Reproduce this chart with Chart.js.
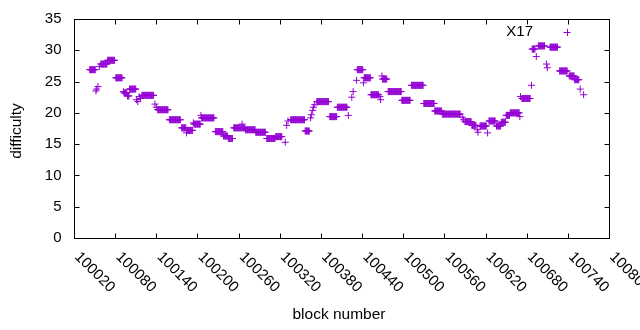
<!DOCTYPE html>
<html><head><meta charset="utf-8">
<script src="https://cdn.jsdelivr.net/npm/chart.js@4/dist/chart.umd.min.js"></script>
<style>html,body{margin:0;padding:0;background:#fff}</style>
</head><body>
<canvas id="c" width="640" height="330"></canvas>
<script>
// Runs of consecutive blocks sharing the same difficulty (start block, end block, difficulty)
const runStart = [100043,100052,100053,100055,100057,100059,100069,100081,100092,100093,100098,100101,100111,100113,100115,100117,100119,100138,100140,100142,100159,100177,100184,100185,100194,100195,100205,100206,100226,100238,100245,100253,100265,100266,100270,100285,100301,100314,100328,100330,100332,100336,100357,100365,100366,100368,100369,100371,100374,100393,100404,100420,100425,100427,100432,100433,100442,100443,100453,100466,100467,100469,100470,100478,100498,100512,100530,100546,100557,100586,100588,100590,100600,100608,100609,100612,100623,100625,100636,100643,100650,100656,100670,100671,100673,100687,100688,100694,100697,100709,100710,100714,100728,100742,100750,100758,100763];
const runEnd = [100051,100052,100053,100055,100057,100068,100079,100090,100092,100097,100100,100110,100111,100113,100115,100117,100136,100138,100140,100157,100175,100183,100184,100193,100194,100204,100205,100224,100237,100244,100251,100264,100265,100269,100284,100299,100313,100323,100328,100330,100332,100356,100363,100365,100366,100368,100369,100371,100391,100403,100418,100420,100425,100427,100432,100441,100442,100452,100464,100466,100467,100469,100476,100497,100510,100529,100545,100556,100583,100586,100588,100599,100606,100608,100609,100621,100623,100634,100642,100649,100655,100669,100670,100671,100685,100687,100692,100694,100706,100709,100710,100725,100739,100749,100756,100758,100763];
const runDifficulty = [26.9,23.5,23.8,24.2,27.4,27.8,28.4,25.6,23.4,23.2,22.7,23.8,22.1,21.8,22.6,22.3,22.8,21.4,20.9,20.5,18.9,17.6,16.8,17.2,18.4,18.2,19.6,19.2,17.0,16.3,15.9,17.6,18.2,17.6,17.3,16.9,15.9,16.2,15.3,18.0,18.7,18.9,17.1,19.2,19.7,20.4,20.9,21.3,21.8,19.4,20.9,19.6,22.5,23.4,25.2,26.9,24.8,25.6,22.9,22.6,22.1,25.9,25.4,23.4,22.0,24.4,21.5,20.3,19.8,19.3,18.9,18.6,18.0,17.3,16.9,17.9,16.8,18.7,17.9,18.5,19.6,20.0,19.4,22.6,22.3,24.4,30.2,29.0,30.7,27.8,27.2,30.5,26.7,25.9,25.3,23.8,22.9];

const xTicks = [100020,100080,100140,100200,100260,100320,100380,100440,100500,100560,100620,100680,100740,100800];
const yTicks = [0,5,10,15,20,25,30,35];
const seriesName = 'X17';
const xTitle = 'block number';
const yTitle = 'difficulty';

const points = [];
for (let i = 0; i < runStart.length; i++) {
  for (let b = runStart[i]; b <= runEnd[i]; b++) points.push({x: b, y: runDifficulty[i]});
}

const COLOR = '#9400d3';
const FONT = '"Liberation Sans", Arial, sans-serif';

const frame = {
  id: 'gnuframe',
  afterDraw(chart) {
    const ctx = chart.ctx, a = chart.chartArea, xs = chart.scales.x, ys = chart.scales.y;
    const L = Math.round(a.left) + 0.5, R = Math.round(a.right) + 0.5;
    const T = Math.round(a.top) + 0.5, B = Math.round(a.bottom) + 0.5;
    const tl = 5;
    ctx.save();
    ctx.strokeStyle = '#000'; ctx.lineWidth = 1;
    ctx.strokeRect(L, T, R - L, B - T);
    ctx.beginPath();
    yTicks.forEach(v => {
      const y = Math.round(ys.getPixelForValue(v)) + 0.5;
      ctx.moveTo(L, y); ctx.lineTo(L + tl, y);
      ctx.moveTo(R, y); ctx.lineTo(R - tl, y);
    });
    xTicks.forEach(v => {
      const x = Math.round(xs.getPixelForValue(v)) + 0.5;
      ctx.moveTo(x, B); ctx.lineTo(x, B - tl);
      ctx.moveTo(x, T); ctx.lineTo(x, T + tl);
    });
    ctx.stroke();
    ctx.fillStyle = '#000';
    ctx.font = '15px ' + FONT;
    ctx.textAlign = 'right'; ctx.textBaseline = 'middle';
    yTicks.forEach(v => ctx.fillText(String(v), L - 13, ys.getPixelForValue(v)));
    ctx.textAlign = 'left';
    xTicks.forEach(v => {
      const x = xs.getPixelForValue(v);
      ctx.save();
      ctx.translate(x + 3, B + 16);
      ctx.rotate(Math.PI / 4);
      ctx.fillText(String(v), 0, 0);
      ctx.restore();
    });
    ctx.textAlign = 'center';
    ctx.font = '15.5px ' + FONT;
    ctx.fillText(xTitle, 339, 315);
    ctx.save();
    ctx.translate(17, 131);
    ctx.rotate(-Math.PI / 2);
    ctx.fillText(yTitle, 0, 0);
    ctx.restore();
    // key
    ctx.font = '15px ' + FONT;
    ctx.textAlign = 'right';
    ctx.fillText(seriesName, 533, 32);
    ctx.strokeStyle = COLOR;
    ctx.beginPath();
    ctx.moveTo(563.5, 32.5); ctx.lineTo(570.5, 32.5);
    ctx.moveTo(567.5, 29); ctx.lineTo(567.5, 36);
    ctx.stroke();
    ctx.restore();
  }
};

new Chart(document.getElementById('c'), {
  type: 'scatter',
  data: { datasets: [{
    label: seriesName, data: points,
    pointStyle: 'cross', pointRadius: 3.5, pointHoverRadius: 3.5,
    borderColor: COLOR, backgroundColor: COLOR, borderWidth: 1, showLine: false
  }]},
  options: {
    responsive: false, animation: false, devicePixelRatio: 1,
    layout: { padding: { left: 74, top: 19, right: 31, bottom: 92 } },
    plugins: { legend: { display: false }, tooltip: { enabled: false } },
    scales: {
      x: { type: 'linear', display: false, min: 100020, max: 100800 },
      y: { type: 'linear', display: false, min: 0, max: 35 }
    }
  },
  plugins: [frame]
});
</script>
</body></html>
